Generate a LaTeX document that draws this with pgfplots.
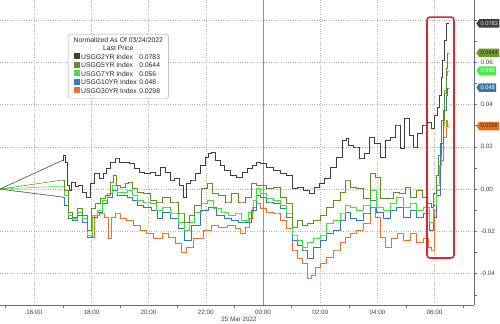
\documentclass[border=0pt]{standalone}
\usepackage{pgfplots}
\pgfplotsset{compat=1.18}
\usepackage{fontspec}
\setmainfont{Liberation Sans}
\usetikzlibrary{shapes.symbols}
\definecolor{cGrey}{HTML}{3F3F3F}
\definecolor{cOlive}{HTML}{5E8F1F}
\definecolor{cGreen}{HTML}{3FE23F}
\definecolor{cBlue}{HTML}{3878B8}
\definecolor{cOrange}{HTML}{E5752B}
\definecolor{cRed}{HTML}{D42A30}
\definecolor{tOlive}{HTML}{6B9A2A}
\definecolor{tGreen}{HTML}{44EE44}
\definecolor{tBlue}{HTML}{3A75B0}
\definecolor{tOrange}{HTML}{E36F1F}
\newcommand{\sw}[1]{\textcolor{#1}{\rule{6pt}{6pt}}}
\begin{document}
\begin{tikzpicture}
\begin{axis}[
  scale only axis, width=474pt, height=305pt,
  xmin=-9.196, xmax=7.378, ymin=-0.0548, ymax=0.0894,
  axis x line*=bottom, axis y line*=right,
  axis line style={draw=gray!85!black, line width=0.6pt},
  xtick={-8,-6,-4,-2,0,2,4,6},
  xticklabels={16:00,18:00,20:00,22:00,00:00,02:00,04:00,06:00},
  minor xtick={-9,-7,-5,-3,-1,1,3,5,7},
  ytick={-0.04,-0.02,0,0.02,0.04,0.06},
  minor ytick={-0.05,-0.03,-0.01,0.01,0.03,0.05,0.07},
  extra y ticks={0.08}, extra y tick labels={},
  extra y tick style={grid=major},
  scaled y ticks=false,
  /pgf/number format/assume math mode=true,
  yticklabel style={/pgf/number format/fixed, /pgf/number format/fixed zerofill, /pgf/number format/precision=2},
  grid=major,
  major grid style={dotted, draw=gray!60, line width=0.45pt},
  tick align=outside, major tick length=3pt, minor tick length=3pt,
  tick style={draw=gray!85!black, line width=0.5pt},
  every major x tick/.append style={draw=none},
  tick label style={font=\fontsize{6.3}{7}\selectfont, text=black!75},
  xticklabel style={inner sep=1.5pt},
  clip=false,
  const plot mark mid,
]
\coordinate (BL) at (rel axis cs:0,0);
\coordinate (TR) at (rel axis cs:1,1);
\coordinate (TL) at (rel axis cs:0,1);
\draw[gray!85, line width=0.6pt] (axis cs:0,-0.0548) -- (axis cs:0,0.0894);

% initial ramps (linear)
\addplot[sharp plot, cOrange, line width=0.55pt] coordinates {(-9.196,0) (-6.993,-0.0038)};
\addplot[sharp plot, cBlue, line width=0.55pt] coordinates {(-9.196,0) (-6.993,-0.0038)};
\addplot[sharp plot, cGreen, line width=0.55pt] coordinates {(-9.196,0) (-6.993,0.0014)};
\addplot[sharp plot, cOlive, line width=0.55pt] coordinates {(-9.196,0) (-6.993,0.0043)};
\addplot[sharp plot, cGrey, line width=0.55pt] coordinates {(-9.196,0) (-6.993,0.0137)};

% USGG30YR
\addplot[cOrange, line width=0.55pt] coordinates {
(-6.993,-0.0038) (-6.888,-0.0076) (-6.748,-0.0123) (-6.573,-0.0147) (-6.399,-0.0123)
(-6.224,-0.0156) (-6.049,-0.0217) (-5.979,-0.0227) (-5.804,-0.0123) (-5.629,-0.0113) (-5.455,-0.0132)
(-5.350,-0.0232) (-5.245,-0.0132) (-5.070,-0.0113) (-4.895,-0.0137) (-4.650,-0.0147) (-4.406,-0.0170)
(-4.196,-0.0194) (-3.951,-0.0208) (-3.706,-0.0232) (-3.601,-0.0232) (-3.427,-0.0208) (-3.182,-0.0227)
(-2.972,-0.0255) (-2.727,-0.0298) (-2.622,-0.0274) (-2.273,-0.0232) (-1.923,-0.0194) (-1.678,-0.0170)
(-1.434,-0.0180) (-1.084,-0.0170) (-0.874,-0.0184) (-0.699,-0.0208) (-0.524,-0.0180) (-0.455,-0.0137)
(-0.280,-0.0085) (-0.175,-0.0066) (0,-0.0090) (0.245,-0.0109) (0.490,-0.0113) (0.699,-0.0147)
(0.944,-0.0184) (1.119,-0.0288) (1.294,-0.0326) (1.469,-0.0350) (1.643,-0.0421) (1.748,-0.0407)
(1.888,-0.0369) (2.098,-0.0350) (2.343,-0.0322) (2.587,-0.0288) (2.797,-0.0251) (2.937,-0.0227)
(3.147,-0.0208) (3.392,-0.0194) (3.636,-0.0161) (3.846,-0.0085) (4.021,-0.0132) (4.196,-0.0227)
(4.371,-0.0274) (4.615,-0.0232) (4.790,-0.0208) (5.035,-0.0241) (5.245,-0.0208) (5.490,-0.0251)
(5.734,-0.0232) (5.839,-0.0274) (5.944,-0.0288) (6.014,-0.0099) (6.119,-0.0005) (6.259,0.0137)
(6.364,0.0246) (6.434,0.0326) (6.469,0.0298)
};
% USGG10YR
\addplot[cBlue, line width=0.55pt] coordinates {
(-6.993,-0.0038) (-6.888,-0.0076) (-6.748,-0.0137) (-6.573,-0.0147) (-6.399,-0.0123)
(-6.224,-0.0156) (-6.049,-0.0227) (-5.874,-0.0132) (-5.699,-0.0109) (-5.524,-0.0066) (-5.350,-0.0038)
(-5.175,-0.0005) (-5.000,-0.0028) (-4.825,-0.0028) (-4.650,-0.0038) (-4.476,-0.0052) (-4.301,-0.0076)
(-4.056,-0.0085) (-3.776,-0.0099) (-3.601,-0.0137) (-3.427,-0.0109) (-3.077,-0.0137) (-2.832,-0.0184)
(-2.657,-0.0241) (-2.378,-0.0170) (-2.028,-0.0099) (-1.783,-0.0085) (-1.503,-0.0123) (-1.224,-0.0137)
(-0.979,-0.0147) (-0.734,-0.0156) (-0.524,-0.0156) (-0.280,-0.0099) (-0.210,-0.0028) (0,-0.0038)
(0.245,-0.0061) (0.490,-0.0066) (0.699,-0.0090) (0.944,-0.0132) (1.119,-0.0241) (1.294,-0.0265)
(1.469,-0.0288) (1.643,-0.0326) (1.888,-0.0274) (2.098,-0.0241) (2.343,-0.0208) (2.587,-0.0194)
(2.797,-0.0147) (2.937,-0.0109) (3.147,-0.0137) (3.392,-0.0147) (3.636,-0.0113) (3.846,-0.0052)
(4.091,-0.0109) (4.336,-0.0137) (4.545,-0.0099) (4.790,-0.0085) (5.035,-0.0132) (5.245,-0.0099)
(5.490,-0.0132) (5.734,-0.0113) (5.909,-0.0194) (6.014,-0.0132) (6.119,-0.0028) (6.259,0.0217)
(6.364,0.0374) (6.434,0.0444) (6.469,0.0478)
};
% USGG7YR
\addplot[cGreen, line width=0.55pt] coordinates {
(-6.993,0.0014) (-6.888,-0.0028) (-6.748,-0.0123) (-6.573,-0.0137) (-6.399,-0.0109)
(-6.224,-0.0137) (-6.049,-0.0217) (-5.874,-0.0123) (-5.699,-0.0099) (-5.524,-0.0052) (-5.350,-0.0019)
(-5.175,0.0019) (-5.000,-0.0014) (-4.825,-0.0014) (-4.650,-0.0005) (-4.476,-0.0028) (-4.301,-0.0052)
(-4.056,-0.0061) (-3.846,-0.0066) (-3.601,-0.0099) (-3.427,-0.0085) (-3.077,-0.0113) (-2.832,-0.0156)
(-2.657,-0.0194) (-2.483,-0.0156) (-2.308,-0.0109) (-2.028,-0.0066) (-1.853,-0.0052) (-1.608,-0.0090)
(-1.329,-0.0109) (-1.084,-0.0123) (-0.874,-0.0113) (-0.629,-0.0147) (-0.385,-0.0109) (-0.280,-0.0052)
(-0.210,0.0005) (0,-0.0019) (0.245,-0.0043) (0.490,-0.0052) (0.699,-0.0076) (0.944,-0.0113)
(1.119,-0.0217) (1.294,-0.0241) (1.469,-0.0274) (1.643,-0.0251) (1.888,-0.0232) (2.098,-0.0217)
(2.343,-0.0161) (2.587,-0.0147) (2.797,-0.0113) (2.937,-0.0076) (3.147,-0.0085) (3.392,-0.0099)
(3.636,-0.0076) (3.846,-0.0005) (4.091,-0.0085) (4.336,-0.0099) (4.545,-0.0066) (4.790,-0.0038)
(5.035,-0.0085) (5.245,-0.0066) (5.490,-0.0099) (5.734,-0.0085) (5.909,-0.0156) (6.014,-0.0076)
(6.119,0.0019) (6.189,0.0113) (6.294,0.0303) (6.364,0.0468) (6.434,0.0539) (6.469,0.0558)
};
% USGG5YR
\addplot[cOlive, line width=0.55pt] coordinates {
(-6.993,0.0043) (-6.888,-0.0005) (-6.748,-0.0109) (-6.573,-0.0132) (-6.399,-0.0090)
(-6.224,-0.0123) (-6.049,-0.0194) (-5.944,-0.0090) (-5.769,-0.0066) (-5.594,-0.0043) (-5.420,-0.0028)
(-5.280,0.0033) (-5.175,0.0066) (-5.070,0.0019) (-4.895,0.0009) (-4.755,0.0028) (-4.650,0.0033)
(-4.476,0.0005) (-4.301,-0.0014) (-4.056,-0.0019) (-3.846,-0.0052) (-3.601,-0.0061) (-3.427,-0.0038)
(-3.077,-0.0061) (-2.832,-0.0113) (-2.657,-0.0156) (-2.483,-0.0123) (-2.308,-0.0076) (-2.028,0.0005)
(-1.853,0.0028) (-1.678,-0.0019) (-1.434,-0.0028) (-1.224,-0.0061) (-0.979,-0.0019) (-0.734,-0.0061)
(-0.524,-0.0038) (-0.280,0.0028) (-0.210,0.0019) (0,0.0019) (0.245,0.0005) (0.490,0.0009)
(0.699,-0.0038) (0.944,-0.0066) (1.119,-0.0180) (1.294,-0.0147) (1.469,-0.0170) (1.643,-0.0161)
(1.888,-0.0147) (2.098,-0.0123) (2.343,-0.0085) (2.587,-0.0052) (2.797,-0.0014) (2.937,0.0043)
(3.147,0.0009) (3.392,0.0005) (3.636,-0.0043) (3.846,0.0076) (3.986,0.0057) (4.196,-0.0043)
(4.441,-0.0043) (4.685,-0.0014) (4.860,-0.0019) (5.070,0.0009) (5.245,-0.0038) (5.490,-0.0005)
(5.664,-0.0038) (5.839,-0.0066) (5.909,-0.0085) (6.014,-0.0019) (6.084,0.0066) (6.189,0.0161)
(6.294,0.0326) (6.364,0.0454) (6.434,0.0572) (6.469,0.0643)
};
% USGG2YR
\addplot[cGrey, line width=0.55pt] coordinates {
(-6.993,0.0137) (-6.958,0.0161) (-6.888,0.0128) (-6.818,0.0019) (-6.748,-0.0005)
(-6.643,0.0033) (-6.503,0.0014) (-6.399,0.0019) (-6.224,-0.0014) (-6.119,-0.0038) (-5.979,0.0028)
(-5.804,0.0076) (-5.629,0.0052) (-5.524,0.0076) (-5.420,0.0099) (-5.245,0.0128) (-5.105,0.0147)
(-4.930,0.0128) (-4.755,0.0128) (-4.580,0.0123) (-4.406,0.0099) (-4.231,0.0080) (-4.056,0.0076)
(-3.846,0.0080) (-3.671,0.0066) (-3.531,0.0104) (-3.322,0.0080) (-3.182,0.0043) (-3.007,0.0052)
(-2.832,0.0019) (-2.727,-0.0038) (-2.622,0.0028) (-2.448,0.0043) (-2.273,0.0076) (-2.098,0.0113)
(-1.958,0.0151) (-1.853,0.0170) (-1.748,0.0175) (-1.573,0.0137) (-1.434,0.0113) (-1.259,0.0090)
(-1.049,0.0066) (-0.804,0.0057) (-0.629,0.0080) (-0.455,0.0099) (-0.280,0.0113) (-0.175,0.0128)
(0,0.0123) (0.245,0.0104) (0.490,0.0090) (0.699,0.0076) (0.944,0.0066) (1.119,0.0005)
(1.294,0.0009) (1.538,-0.0005) (1.713,-0.0019) (1.888,0.0009) (2.063,0.0028) (2.238,0.0052)
(2.448,0.0104) (2.692,0.0151) (2.867,0.0232) (2.937,0.0241) (3.042,0.0208) (3.287,0.0199)
(3.462,0.0147) (3.636,0.0170) (3.811,0.0246) (3.986,0.0217) (4.196,0.0151) (4.371,0.0232)
(4.545,0.0246) (4.720,0.0303) (4.860,0.0194) (5.035,0.0336) (5.210,0.0255) (5.315,0.0199)
(5.490,0.0265) (5.664,0.0303) (5.839,0.0317) (5.944,0.0288) (6.049,0.0350) (6.119,0.0388)
(6.189,0.0444) (6.259,0.0530) (6.294,0.0610) (6.364,0.0704) (6.434,0.0785) (6.469,0.0783)
};

\draw[cRed, line width=1.6pt, rounded corners=3pt] (axis cs:5.734,-0.0326) rectangle (axis cs:6.678,0.0813);

\tikzset{tag/.style={signal, signal to=west, signal pointer angle=110, anchor=west,
  inner xsep=1.5pt, inner ysep=1pt, minimum height=8.5pt, font=\fontsize{5.6}{6}\selectfont}}
\node[tag, fill=cGrey, text=white!85!black] at ([xshift=2pt]axis cs:7.378,0.0783) {0.0783};
\node[tag, fill=tOlive, text=black!80] at ([xshift=2pt]axis cs:7.378,0.0644) {0.0644};
\node[tag, fill=tGreen, text=white] at ([xshift=2pt]axis cs:7.378,0.056) {0.056};
\node[tag, fill=tBlue, text=white] at ([xshift=2pt]axis cs:7.378,0.048) {0.048};
\node[tag, fill=tOrange, text=black!80] at ([xshift=2pt]axis cs:7.378,0.0298) {0.0298};
\end{axis}

\node[font=\fontsize{6.3}{7}\selectfont, text=black!75] at ([xshift=239pt, yshift=-14pt]BL) {25 Mar 2022};

\node[draw=gray!70, fill=white, rounded corners=1.5pt, anchor=north west, inner xsep=5.5pt, inner ysep=2.5pt,
  font=\fontsize{6.8}{8.3}\selectfont, text=black!85] at ([xshift=68pt, yshift=-34pt]TL) {%
\begin{tabular}{@{}l@{\hspace{1.5pt}}l@{\hspace{2.5pt}}l@{}}
\multicolumn{3}{@{}c@{}}{Normalized As Of 03/24/2022}\\
\multicolumn{3}{@{}c@{}}{Last Price}\\
\sw{cGrey} & USGG2YR Index & 0.0783\\
\sw{cOlive} & USGG5YR Index & 0.0644\\
\sw{cGreen} & USGG7YR Index & 0.056\\
\sw{cBlue} & USGG10YR Index & 0.048\\
\sw{cOrange} & USGG30YR Index & 0.0298
\end{tabular}};
\pgfresetboundingbox
\useasboundingbox ([yshift=-18pt]BL) rectangle ([xshift=26pt]TR);
\end{tikzpicture}
\end{document}
